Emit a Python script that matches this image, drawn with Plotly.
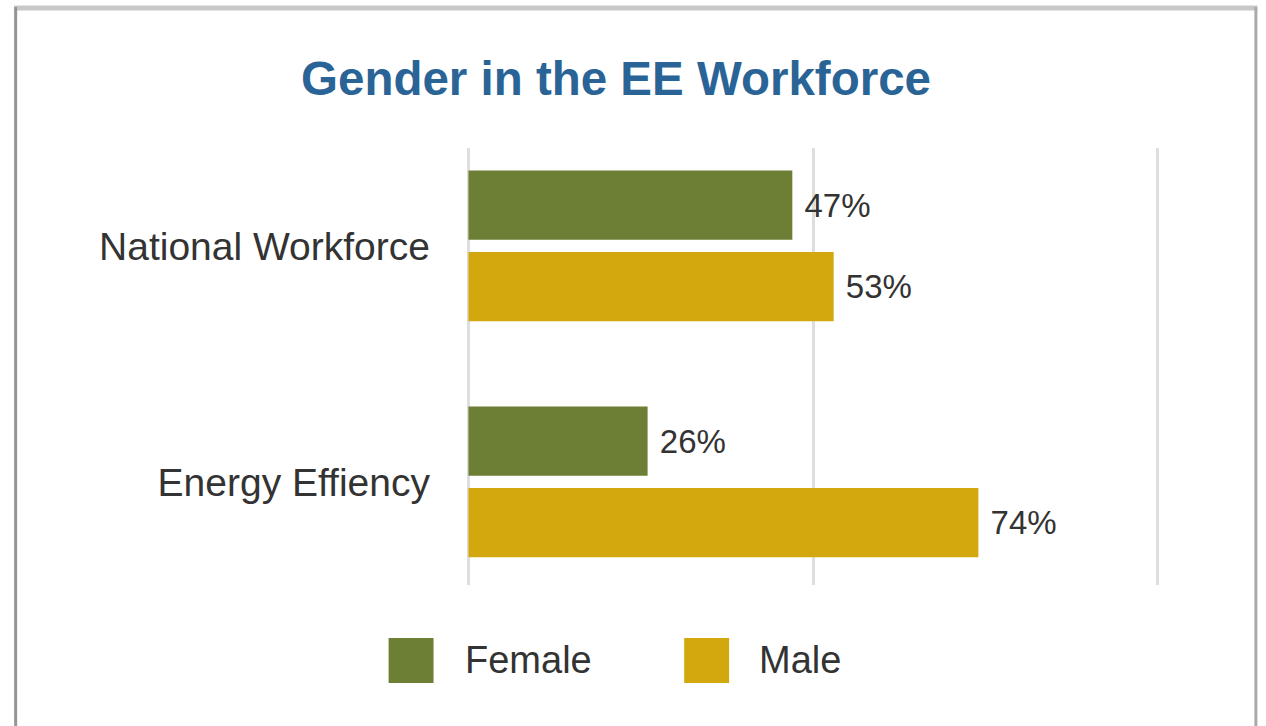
import plotly.graph_objects as go

# ---- data ----
categories = ["Energy Effiency", "National Workforce"]
female_values = [26, 47]
male_values = [74, 53]
series_names = ["Female", "Male"]
title_text = "Gender in the EE Workforce"

FEMALE_COLOR = "#6d7f35"
MALE_COLOR = "#d3a80f"
TEXT_COLOR = "#333333"
FONT = "Liberation Sans, Arial, sans-serif"

W, H = 1266, 726
L, R, T, B = 464.5, 1161.5, 148, 585  # plot area in pixels


def px_x(x):
    return (x - L) / (R - L)


def px_y(y):
    return (B - y) / (B - T)


fig = go.Figure()
fig.add_trace(go.Bar(
    name=series_names[1], y=categories, x=male_values, orientation="h",
    marker=dict(color=MALE_COLOR, line=dict(width=0)),
    text=[f" {v}%" for v in male_values], textposition="outside",
    textfont=dict(size=33, color=TEXT_COLOR, family=FONT),
    cliponaxis=False, showlegend=False,
))
fig.add_trace(go.Bar(
    name=series_names[0], y=categories, x=female_values, orientation="h",
    marker=dict(color=FEMALE_COLOR, line=dict(width=0)),
    text=[f" {v}%" for v in female_values], textposition="outside",
    textfont=dict(size=33, color=TEXT_COLOR, family=FONT),
    cliponaxis=False, showlegend=False,
))

shapes = []
# frame lines
shapes.append(dict(type="line", xref="paper", yref="paper",
                   x0=px_x(13), x1=px_x(1258), y0=px_y(8), y1=px_y(8),
                   line=dict(color="#c8c8c8", width=5)))
shapes.append(dict(type="line", xref="paper", yref="paper",
                   x0=px_x(14.5), x1=px_x(14.5), y0=px_y(7), y1=px_y(730),
                   line=dict(color="#959595", width=3)))
shapes.append(dict(type="line", xref="paper", yref="paper",
                   x0=px_x(1256.5), x1=px_x(1256.5), y0=px_y(7), y1=px_y(730),
                   line=dict(color="#aaaaaa", width=3)))

# legend (manual, large square swatches)
legend_items = [(series_names[0], FEMALE_COLOR, 388, 462),
                (series_names[1], MALE_COLOR, 684, 757)]
annotations = []
for name, color, sx, tx in legend_items:
    shapes.append(dict(type="rect", xref="paper", yref="paper",
                       x0=px_x(sx), x1=px_x(sx + 45), y0=px_y(683), y1=px_y(638),
                       fillcolor=color, line=dict(width=0)))
    annotations.append(dict(xref="paper", yref="paper", x=px_x(tx), y=px_y(660),
                            xanchor="left", yanchor="middle", text=name, showarrow=False,
                            font=dict(size=38, color=TEXT_COLOR, family=FONT)))

fig.update_layout(
    width=W, height=H,
    margin=dict(l=L, r=W - R, t=T, b=H - B, pad=0),
    paper_bgcolor="white", plot_bgcolor="white",
    barmode="group", bargap=0.31, bargroupgap=0.15,
    title=dict(text=f"<b>{title_text}</b>", x=616 / W, xref="container", xanchor="center",
               y=1 - 78 / H, yref="container", yanchor="middle",
               font=dict(size=47.5, color="#2a6496", family=FONT)),
    xaxis=dict(range=[-0.5, 100.5], tickvals=[0, 50, 100], showticklabels=False,
               showgrid=True, gridcolor="#dedede", gridwidth=3, zeroline=False,
               showline=False, fixedrange=True),
    yaxis=dict(categoryorder="array", categoryarray=categories,
               range=[-0.437, 1.415], showgrid=False, zeroline=False, showline=False,
               ticks="", ticklabelstandoff=34,
               tickfont=dict(size=39, color=TEXT_COLOR, family=FONT)),
    shapes=shapes, annotations=annotations,
    uniformtext=dict(mode=False),
)

fig.write_html("out.html")
